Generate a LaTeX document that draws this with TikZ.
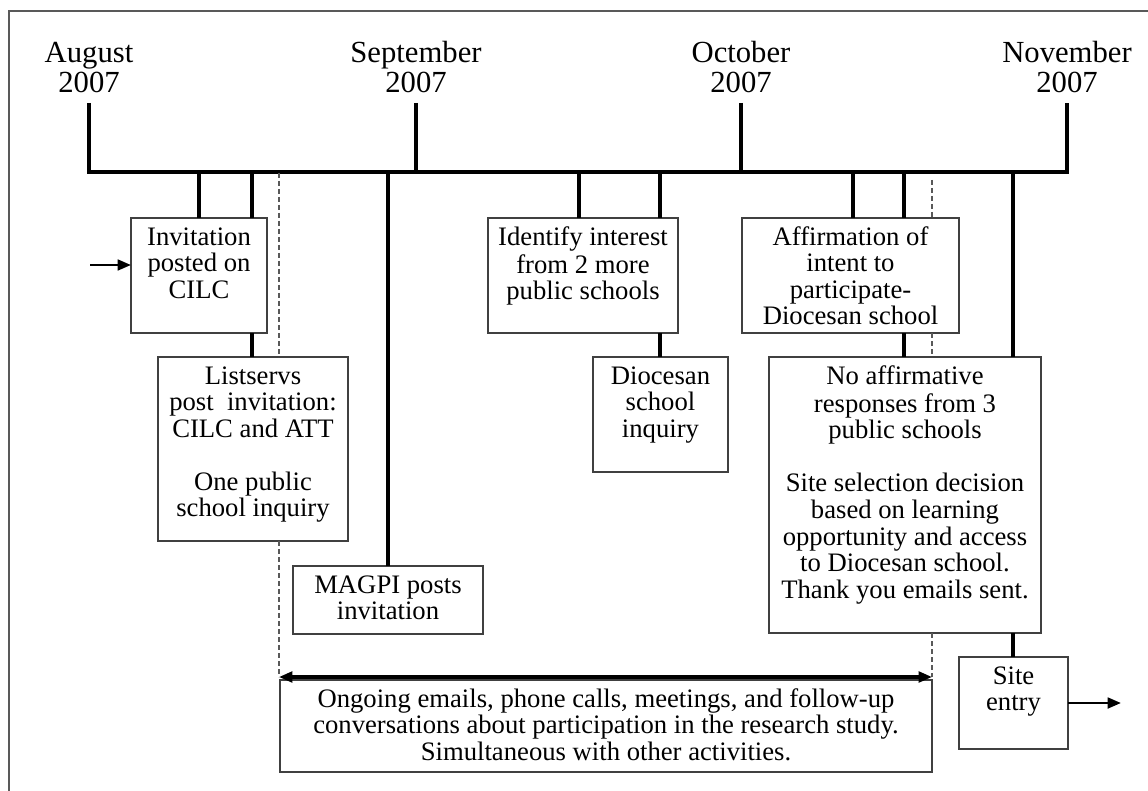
\documentclass[tikz,border=0pt]{standalone}
\usepackage{fontspec}
\setmainfont{Liberation Serif}
\usetikzlibrary{arrows.meta}
\newcommand{\mfont}{\fontsize{23pt}{22.5pt}\selectfont}
\newcommand{\bfnt}{\fontsize{20pt}{19.9pt}\selectfont}
\newcommand{\bxt}[3]{\parbox[c][\dimexpr 0.75pt*#2\relax][t]{\dimexpr 0.75pt*#1\relax}{\centering\vspace*{6.4pt}\strut #3\par}}
\begin{document}
\begin{tikzpicture}[x=0.75pt,y=-0.75pt,
  tl/.style={line width=2.3pt, line cap=butt, line join=miter},
  bx/.style={draw=black!75, line width=1.1pt, fill=white, inner sep=0pt, outer sep=0pt, anchor=north west, font=\bfnt},
  mon/.style={font=\mfont, align=center, inner sep=0pt, anchor=south},
  dsh/.style={draw=black!65, line width=1.1pt, dash pattern=on 3.5pt off 2.5pt},
  arr/.style={line width=2pt, -{Triangle[length=10pt,width=8pt]}},
  darr/.style={line width=2.3pt, {Triangle[length=10pt,width=8pt]}-{Triangle[length=10pt,width=8pt]}}]

\useasboundingbox (0,0) rectangle (1148,791);
\draw[black!65, line width=1.5pt] (9,791) -- (9,11) -- (1148,11);

% month labels
\node[mon] (maug) at (89,93) {August\\2007};
\node[mon] (msep) at (416,93) {September\\2007};
\node[mon] (moct) at (741,93) {October\\2007};
\node[mon] (mnov) at (1067,93) {November\\2007};

% timeline
\coordinate (tA) at (89,172);
\coordinate (tD) at (1067,172);
\draw[tl] ([yshift=-7.5pt]maug.south) -- (tA) -- (tD) -- ([yshift=-7.5pt]mnov.south);
\draw[tl] ([yshift=-7.5pt]msep.south) -- (msep.south |- tA);
\draw[tl] ([yshift=-7.5pt]moct.south) -- (moct.south |- tA);

% boxes
\node[bx] (b1) at (131,218) {\bxt{136}{115}{Invitation\\posted on\\CILC}};
\node[bx] (b2) at (158,357) {\bxt{190}{184}{Listservs\\post\ \ invitation:\\CILC and ATT\\[\baselineskip]One public\\school inquiry}};
\node[bx] (b3) at (293,566) {\bxt{190}{68}{MAGPI posts\\invitation}};
\node[bx] (b4) at (488,218) {\bxt{190}{115}{Identify interest\\from 2 more\\public schools}};
\node[bx] (b5) at (593,357) {\bxt{135}{115}{Diocesan\\school\\inquiry}};
\node[bx] (b6) at (742,218) {\bxt{217}{115}{Affirmation of\\intent to\\participate-\\Diocesan school}};
\node[bx] (b7) at (769,357) {\bxt{272}{276}{No affirmative\\responses from 3\\public schools\\[\baselineskip]Site selection decision\\based on learning\\opportunity and access\\to Diocesan school.\\Thank you emails sent.}};
\node[bx] (b8) at (959,657) {\bxt{109}{92}{Site\\entry}};
\node[bx] (b9) at (280,680) {\bxt{652}{92}{Ongoing emails, phone calls, meetings, and follow-up\\conversations about participation in the research study.\\Simultaneous with other activities.}};

% ticks from the timeline
\coordinate (k1) at (199,172);
\coordinate (k2) at (252,172);
\coordinate (k3) at (388,172);
\coordinate (k4) at (579,172);
\coordinate (k5) at (660,172);
\coordinate (k6) at (853,172);
\coordinate (k7) at (904,172);
\coordinate (k8) at (1013,172);
\draw[tl] (k1) -- (k1 |- b1.north);
\draw[tl] (k2) -- (k2 |- b1.north);
\draw[tl] (k2 |- b1.south) -- (k2 |- b2.north);
\draw[tl] (k3) -- (k3 |- b3.north);
\draw[tl] (k4) -- (k4 |- b4.north);
\draw[tl] (k5) -- (k5 |- b4.north);
\draw[tl] (k5 |- b4.south) -- (k5 |- b5.north);
\draw[tl] (k6) -- (k6 |- b6.north);
\draw[tl] (k7) -- (k7 |- b6.north);
\draw[tl] (k7 |- b6.south) -- (k7 |- b7.north);
\draw[tl] (k8) -- (k8 |- b7.north);
\draw[tl] (k8 |- b7.south) -- (k8 |- b8.north);

% dashed span markers
\coordinate (dlt) at (279,173);
\coordinate (dl) at (279,677);
\coordinate (drt) at (932,180);
\coordinate (dr) at (932,677);
\draw[dsh] (dlt) -- (dlt |- b2.north);
\draw[dsh] (dlt |- b2.south) -- (dl);
\draw[dsh] (drt) -- (drt |- b6.north);
\draw[dsh] (drt |- b6.south) -- (drt |- b7.north);
\draw[dsh] (drt |- b7.south) -- (dr);

% arrows
\draw[darr] (dl) -- (dr);
\coordinate (inL) at (90,265);
\draw[arr] (inL) -- (inL -| b1.west);
\coordinate (outR) at (1121,703);
\draw[arr] (b8.east) -- (outR);
\end{tikzpicture}
\end{document}
